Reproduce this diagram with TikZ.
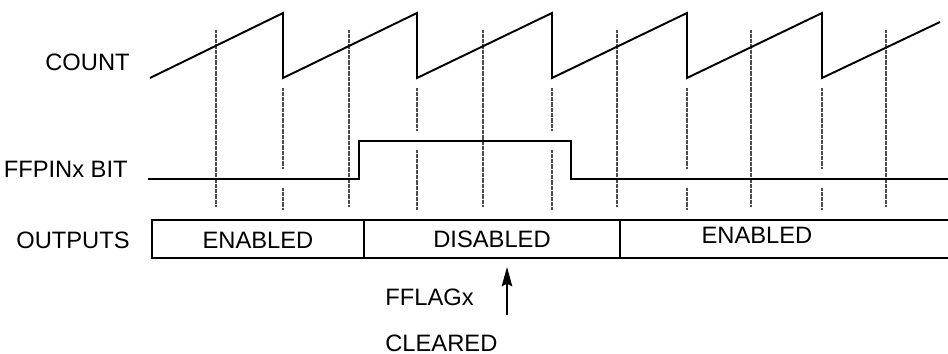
\documentclass[tikz,border=0pt]{standalone}
\usepackage{fontspec}
\setmainfont{Liberation Sans}
\usetikzlibrary{arrows.meta,positioning}
\tikzset{
  wave/.style={line width=1.1pt,line join=miter},
  guide/.style={gray!60!black,line width=0.9pt,dash pattern=on 0.4pt off 0.3pt},
  lbl/.style={inner sep=0pt,font=\fontsize{13.5}{16}\selectfont}
}
\begin{document}
\begin{tikzpicture}[x=0.02cm,y=-0.02cm]
\useasboundingbox (0,0) rectangle (948,354);
% row labels
\node[lbl,anchor=east] (count) at (130,62) {COUNT};
\node[lbl,anchor=east] (ffpin) at (128,169) {FFPINx BIT};
\node[lbl,anchor=east] (outputs) at (130,240) {OUTPUTS};
% guide lines
\foreach \x in {216,349,483,617,751,886}
  \draw[guide] (\x,30)--(\x,207);
\foreach \x/\lv in {283/179,417/141,552/141,687/179,822/179}
  {\draw[guide] (\x,88)--(\x,\lv-10);
   \draw[guide] (\x,\lv+9)--(\x,210);}
% count sawtooth
\draw[wave] (150,78)--(283,13)--(283,78)--(417,13)--(417,78)--(552,13)--(552,78)
  --(687,13)--(687,78)--(822,13)--(822,78)--(940,22);
% ffpin bit
\draw[wave] (148,179)--(359,179)--(359,141)--(571,141)--(571,179)--(948,179);
% outputs row
\draw[wave] (948,220)--(152,220)--(152,258)--(948,258);
\draw[wave] (364,220)--(364,258) (620,220)--(620,258);
\node[lbl] (en1) at (258,240) {ENABLED};
\node[lbl] (dis) at (492,239) {DISABLED};
\node[lbl] (en2) at (757,235) {ENABLED};
% flag cleared
\node[lbl,anchor=west] (fflag) at (385,297) {FFLAGx};
\node[lbl,anchor=west] (cleared) at (385,343) {CLEARED};
\coordinate (tail) at (507,315);
\coordinate (tip) at (507,267);
\draw[line width=0.8pt,-{Stealth[length=11pt,width=6pt,inset=1.5pt]}] (tail)--(tip);
\end{tikzpicture}
\end{document}
